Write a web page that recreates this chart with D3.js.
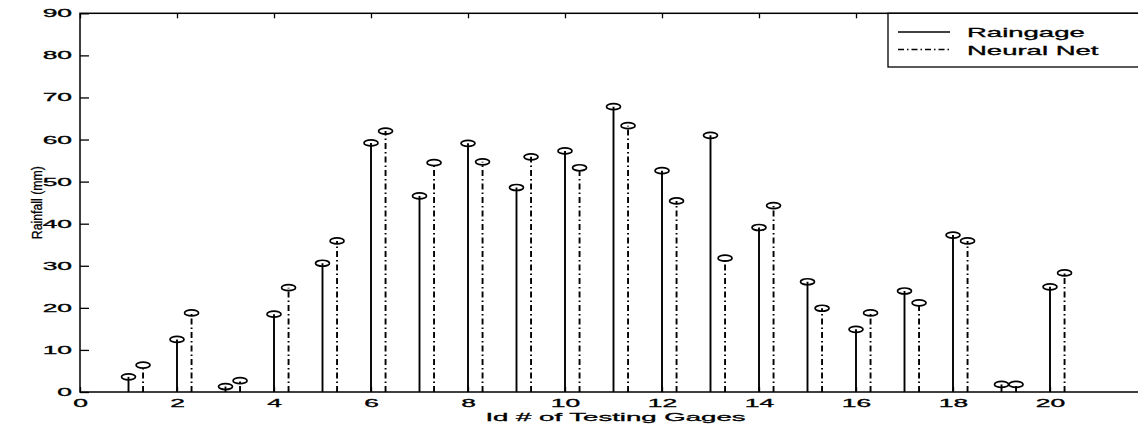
<!DOCTYPE html>
<html>
<head>
<meta charset="utf-8">
<script src="https://cdn.jsdelivr.net/npm/d3@7/dist/d3.min.js"></script>
<style>
    body { margin: 0; background: #fff; }
    text { font-family: "Liberation Sans", Arial, sans-serif; fill: #000; stroke: #000; stroke-width: 0.3px; }
</style>
</head>
<body>
<div class="chart"></div>
<script>
// values
const gageIds = [1, 2, 3, 4, 5, 6, 7, 8, 9, 10, 11, 12, 13, 14, 15, 16, 17, 18, 19, 20];
const raingage = [3.6, 12.5, 1.3, 18.5, 30.6, 59.2, 46.6, 59.1, 48.6, 57.3, 67.8, 52.6, 61.0, 39.1, 26.2, 14.9, 24.0, 37.3, 1.8, 25.0];
const neuralNet = [6.4, 18.8, 2.7, 24.8, 35.9, 62.0, 54.5, 54.7, 55.9, 53.3, 63.3, 45.4, 31.8, 44.3, 19.9, 18.8, 21.2, 35.9, 1.8, 28.3];
const xTicks = [0, 2, 4, 6, 8, 10, 12, 14, 16, 18, 20];
const yTicks = [0, 10, 20, 30, 40, 50, 60, 70, 80, 90];
const legendLabels = ["Raingage", "Neural Net"];

const config = {
    width: 1138,
    height: 427,
    plotLeft: 80,
    plotRight: 1147,
    plotTop: 13.3,
    plotBottom: 392,
    xMax: 22,
    yMax: 90,
    nnOffset: 0.3,
    tickScale: 2.4,
    dashDot: "6,3,1.5,3"
};

const {width, height, plotLeft, plotRight, plotTop, plotBottom} = config;

const x = d3.scaleLinear().domain([0, config.xMax]).range([plotLeft, plotRight]);
const y = d3.scaleLinear().domain([0, config.yMax]).range([plotBottom, plotTop]);

const svg = d3.select(".chart").append("svg")
    .attr("width", width)
    .attr("height", height);

svg.append("rect")
    .attr("width", width)
    .attr("height", height)
    .attr("fill", "#fff");

// axes (ticks point inward, like matlab)
const gx = svg.append("g")
    .attr("transform", "translate(0," + plotBottom + ")")
    .call(d3.axisBottom(x).tickValues(xTicks).tickSizeInner(-5).tickSizeOuter(0).tickPadding(7));

const gy = svg.append("g")
    .attr("transform", "translate(" + plotLeft + ",0)")
    .call(d3.axisLeft(y).tickValues(yTicks).tickSizeInner(-9).tickSizeOuter(0));

svg.append("g")
    .attr("transform", "translate(0," + plotTop + ")")
    .call(d3.axisTop(x).tickValues(xTicks).tickSizeInner(-5).tickSizeOuter(0).tickFormat(""));

svg.append("g")
    .attr("transform", "translate(" + plotRight + ",0)")
    .call(d3.axisRight(y).tickValues(yTicks).tickSizeInner(-9).tickSizeOuter(0).tickFormat(""));

svg.selectAll(".domain").remove();
svg.selectAll(".tick line").attr("stroke", "#000").attr("stroke-width", 1.3);

gx.selectAll("text")
    .attr("font-size", 11)
    .attr("transform", "scale(" + config.tickScale + ",1)");

gy.selectAll("text")
    .attr("font-size", 11)
    .attr("x", -8 / config.tickScale)
    .attr("transform", "scale(" + config.tickScale + ",1)");

// plot box
svg.append("rect")
    .attr("x", x(0))
    .attr("y", y(config.yMax))
    .attr("width", x(config.xMax) - x(0))
    .attr("height", y(0) - y(config.yMax))
    .attr("fill", "none")
    .attr("stroke", "#000")
    .attr("stroke-width", 1.5);

// stems
const series = [
    {name: legendLabels[0], values: raingage, offset: 0, dash: null},
    {name: legendLabels[1], values: neuralNet, offset: config.nnOffset, dash: config.dashDot}
];

series.forEach(s => {
    const g = svg.append("g").attr("class", "stem");
    const pts = gageIds.map((id, i) => ({id: id, v: s.values[i]}));

    g.selectAll("line")
        .data(pts)
        .join("line")
        .attr("x1", d => x(d.id + s.offset))
        .attr("x2", d => x(d.id + s.offset))
        .attr("y1", y(0))
        .attr("y2", d => y(d.v))
        .attr("stroke", "#000")
        .attr("stroke-width", 1.9)
        .attr("stroke-dasharray", s.dash);

    g.selectAll("ellipse")
        .data(pts)
        .join("ellipse")
        .attr("cx", d => x(d.id + s.offset))
        .attr("cy", d => y(d.v))
        .attr("rx", 7)
        .attr("ry", 3)
        .attr("fill", "none")
        .attr("stroke", "#000")
        .attr("stroke-width", 1.7);
});

// legend
const legend = svg.append("g");
legend.append("rect")
    .attr("x", 888)
    .attr("y", plotTop)
    .attr("width", plotRight - 888)
    .attr("height", 67 - plotTop)
    .attr("fill", "#fff")
    .attr("stroke", "#000")
    .attr("stroke-width", 1.3);

series.forEach((s, i) => {
    const ly = 32 + i * 17.5;
    legend.append("line")
        .attr("x1", 898)
        .attr("x2", 950)
        .attr("y1", ly)
        .attr("y2", ly)
        .attr("stroke", "#000")
        .attr("stroke-width", 1.3)
        .attr("stroke-dasharray", s.dash);
    legend.append("text")
        .attr("transform", "translate(967," + (ly + 5.3) + ") scale(2.2,1)")
        .attr("font-size", 12.5)
        .text(s.name);
});

// axis titles
svg.append("text")
    .attr("transform", "translate(" + ((plotLeft + plotRight) / 2 + 2) + ",420.7) scale(2.4,1)")
    .attr("text-anchor", "middle")
    .attr("font-size", 11.5)
    .text("Id # of Testing Gages");

svg.append("text")
    .attr("transform", "translate(42," + ((plotTop + plotBottom) / 2) + ") rotate(-90) scale(0.85,1)")
    .attr("text-anchor", "middle")
    .attr("font-size", 14.5)
    .text("Rainfall (mm)");
</script>
</body>
</html>
